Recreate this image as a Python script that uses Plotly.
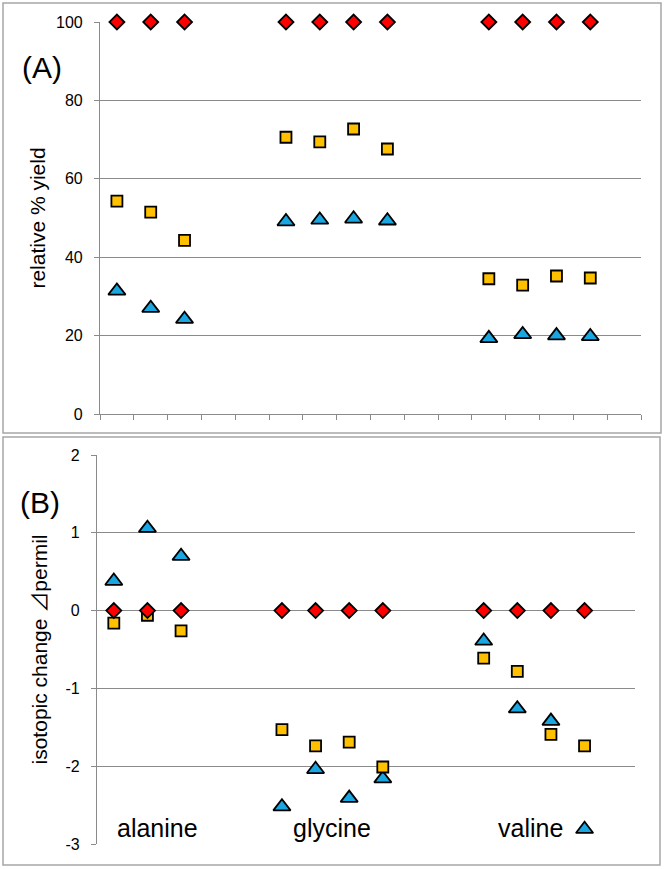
import plotly.graph_objects as go

# ---------------- data ----------------
acids = ["alanine", "glycine", "valine"]
runs_per_acid = [3, 4, 4]
first_slot = [1, 6, 12]          # category slot where each acid's runs start (16 slots total)
n_slots = 16

# (A) relative % yield
yield_red = [100, 100, 100, 100, 100, 100, 100, 100, 100, 100, 100]
yield_orange = [54.3, 51.5, 44.3, 70.6, 69.4, 72.7, 67.6, 34.5, 32.9, 35.2, 34.7]
yield_blue = [31.4, 27.0, 24.2, 49.1, 49.5, 49.8, 49.3, 19.3, 20.3, 20.0, 19.8]

# (B) isotopic change
iso_red = [0, 0, 0, 0, 0, 0, 0, 0, 0, 0, 0]
iso_orange = [-0.16, -0.06, -0.26, -1.53, -1.74, -1.69, -2.01, -0.61, -0.78, -1.59, -1.74]
iso_blue = [0.38, 1.06, 0.70, -2.52, -2.04, -2.41, -2.16, -0.39, -1.26, -1.42, -2.81]

yA_ticks = [0, 20, 40, 60, 80, 100]
yB_ticks = [-3, -2, -1, 0, 1, 2]
yB_labels = ["-3", "-2", "-1", "0", "1", "2"]

# ---------------- helpers ----------------
xs = []
for start, n in zip(first_slot, runs_per_acid):
    xs += [start + i for i in range(n)]

W, H = 664, 869
FONT = "Liberation Sans, Arial, Noto Sans CJK JP, sans-serif"
GRID = "#8a8a8a"
BORDER = "#a6a6a6"

def px(x):
    return x / W

def py(y):
    return 1 - y / H

red_m = dict(symbol="diamond", size=11.5, color="#ff0000", line=dict(color="black", width=1.8))
org_m = dict(symbol="square", size=11, color="#ffc000", line=dict(color="black", width=1.8))
blu_m = dict(symbol="triangle-up", size=15, color="#1aa6e0", line=dict(color="black", width=1.8))

fig = go.Figure()

for ys, m, ax in [
    (yield_blue, blu_m, ("x", "y")),
    (yield_orange, org_m, ("x", "y")),
    (yield_red, red_m, ("x", "y")),
    (iso_blue, blu_m, ("x2", "y2")),
    (iso_orange, org_m, ("x2", "y2")),
    (iso_red, red_m, ("x2", "y2")),
]:
    fig.add_trace(go.Scatter(x=xs, y=ys, mode="markers", marker=m,
                             xaxis=ax[0], yaxis=ax[1], showlegend=False,
                             cliponaxis=False))

tick_edges = [0.5 + i for i in range(n_slots + 1)]

fig.update_layout(
    width=W, height=H,
    margin=dict(l=0, r=0, t=0, b=0, autoexpand=False),
    paper_bgcolor="white", plot_bgcolor="white",
    font=dict(family=FONT, color="black", size=16),
    xaxis=dict(domain=[px(100), px(641)], anchor="y", range=[0.5, n_slots + 0.5],
               tickvals=tick_edges, ticktext=[""] * len(tick_edges),
               ticks="outside", ticklen=5, tickcolor=GRID, tickwidth=1,
               showline=True, linecolor=GRID, linewidth=1.2,
               showgrid=False, zeroline=False, automargin=False),
    yaxis=dict(domain=[py(414), py(22)], anchor="x", range=[0, 100],
               tickvals=yA_ticks, ticks="outside", ticklen=5, tickcolor=GRID,
               showline=True, linecolor=GRID, linewidth=1.2,
               showgrid=True, gridcolor=GRID, gridwidth=1.2, zeroline=False,
               tickfont=dict(size=16), ticklabelstandoff=8, automargin=False,
               title=dict(text="relative % yield", font=dict(size=21), standoff=4)),
    xaxis2=dict(domain=[px(97), px(635)], anchor="y2", range=[0.5, n_slots + 0.5],
                showticklabels=False, ticks="", automargin=False,
                showline=False, showgrid=False, zeroline=False),
    yaxis2=dict(domain=[py(844), py(455)], anchor="x2", range=[-3, 2],
                tickvals=yB_ticks, ticktext=yB_labels, ticks="outside", ticklen=5, tickcolor=GRID,
                showline=True, linecolor=GRID, linewidth=1.2,
                showgrid=True, gridcolor=GRID, gridwidth=1.2, zeroline=False,
                tickfont=dict(size=16), ticklabelstandoff=8, automargin=False,
                title=dict(text="isotopic change ⊿permil", font=dict(size=21), standoff=12)),
)

# panel borders
fig.add_shape(type="rect", xref="paper", yref="paper",
              x0=px(3), x1=px(661), y0=py(433), y1=py(3),
              line=dict(color=BORDER, width=1.5), fillcolor="rgba(0,0,0,0)", layer="below")
fig.add_shape(type="rect", xref="paper", yref="paper",
              x0=px(3), x1=px(660), y0=py(865), y1=py(437),
              line=dict(color=BORDER, width=1.5), fillcolor="rgba(0,0,0,0)", layer="below")

# panel labels
fig.add_annotation(text="(A)", xref="paper", yref="paper", x=px(42), y=py(67),
                   showarrow=False, font=dict(size=30), xanchor="center", yanchor="middle")
fig.add_annotation(text="(B)", xref="paper", yref="paper", x=px(40), y=py(502),
                   showarrow=False, font=dict(size=30), xanchor="center", yanchor="middle")

# category labels inside panel B
label_x = [2.3, 7.5, 13.4]
for name, lx in zip(acids, label_x):
    fig.add_annotation(text=name, xref="x2", yref="y2", x=lx, y=-2.79,
                       showarrow=False, font=dict(size=25),
                       xanchor="center", yanchor="middle")

fig.write_html(
    "out.html",
    config={"displayModeBar": False},
    post_script="document.body.style.margin='0';document.body.style.padding='0';"
                "document.body.style.overflow='hidden';",
)
